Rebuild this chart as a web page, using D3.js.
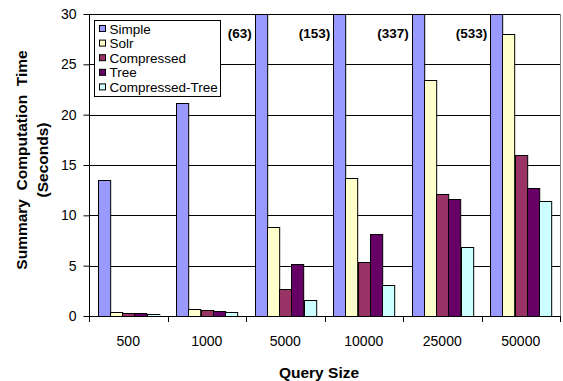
<!DOCTYPE html>
<html><head><meta charset="utf-8">
<script src="https://cdn.jsdelivr.net/npm/d3@7"></script>
<style>body{margin:0;background:#fff}svg{display:block}text{font-family:"Liberation Sans",Arial,sans-serif}</style>
</head><body>
<svg id="c" width="563" height="381"></svg>
<script>
const categories = ["500","1000","5000","10000","25000","50000"];
const seriesNames = ["Simple","Solr","Compressed","Tree","Compressed-Tree"];
const simple = [13.5, 21.2, 63, 153, 337, 533];
const solr = [0.4, 0.7, 8.8, 13.7, 23.4, 28.0];
const compressed = [0.3, 0.6, 2.7, 5.4, 12.1, 16.0];
const tree = [0.3, 0.45, 5.2, 8.1, 11.6, 12.7];
const compressedTree = [0.15, 0.4, 1.55, 3.1, 6.9, 11.45];
const yTicks = [0, 5, 10, 15, 20, 25, 30];
const colors = ["#9999FF","#FFFFCC","#993366","#660066","#CCFFFF"];
const seriesValues = [simple, solr, compressed, tree, compressedTree];

const svg = d3.select("#c");
const L = 89, R = 560, T = 14, B = 316;
const x0 = d3.scaleBand().domain(categories).range([L, R]).padding(0);
const x1 = d3.scaleBand().domain(seriesNames).range([0, x0.bandwidth()]).paddingInner(0).paddingOuter(0.72);
const y = d3.scaleLinear().domain([0, 30]).range([B, T]);

// plot border (right, gray)
svg.append("line").attr("x1", R + 0.5).attr("x2", R + 0.5).attr("y1", T).attr("y2", B).attr("stroke", "#808080");

// gridlines
svg.append("g").selectAll("line").data(yTicks.filter(d => d > 0)).join("line")
  .attr("x1", L).attr("x2", R).attr("y1", d => Math.round(y(d)) + 0.5).attr("y2", d => Math.round(y(d)) + 0.5)
  .attr("stroke", "#000").attr("stroke-width", 1);

// bars
const data = [];
categories.forEach((c, i) => seriesNames.forEach((s, j) => data.push({c, s, v: seriesValues[j][i], color: colors[j]})));
svg.append("g").selectAll("rect").data(data).join("rect")
  .attr("x", d => Math.round(x0(d.c) + x1(d.s)) + 0.5)
  .attr("width", x1.bandwidth())
  .attr("y", d => Math.round(y(Math.min(d.v, 30))) + 0.5)
  .attr("height", d => Math.round(B) - Math.round(y(Math.min(d.v, 30))))
  .attr("fill", d => d.color).attr("stroke", "#000").attr("stroke-width", 1);

// overflow labels
svg.append("g").selectAll("text").data(data.filter(d => d.v > 30)).join("text")
  .attr("x", d => x0(d.c) + x1(d.s) - 3).attr("y", 38)
  .attr("text-anchor", "end").attr("font-weight", "bold").attr("font-size", 13.5)
  .text(d => "(" + d.v + ")");

// y axis
const yAxis = d3.axisLeft(y).tickValues(yTicks).tickSize(6).tickPadding(7).tickFormat(d3.format("d"));
const ya = svg.append("g").attr("transform", `translate(${L + 0.5},0)`).call(yAxis);
ya.select(".domain").remove();
ya.selectAll("line").attr("stroke", "#000");
ya.selectAll("text").attr("font-size", 14).attr("font-family", '"Liberation Sans",Arial,sans-serif').attr("fill", "#000");
svg.append("line").attr("x1", L + 0.5).attr("x2", L + 0.5).attr("y1", T).attr("y2", B + 0.5).attr("stroke", "#000");

// x axis
svg.append("line").attr("x1", L).attr("x2", R + 1).attr("y1", B + 0.5).attr("y2", B + 0.5).attr("stroke", "#000");
const bounds = categories.map(c => x0(c)).concat([R]);
svg.append("g").selectAll("line").data(bounds).join("line")
  .attr("x1", d => Math.round(d) + 0.5).attr("x2", d => Math.round(d) + 0.5).attr("y1", B).attr("y2", B + 6).attr("stroke", "#000");
svg.append("g").selectAll("text").data(categories).join("text")
  .attr("x", d => x0(d) + x0.bandwidth() / 2).attr("y", 346)
  .attr("text-anchor", "middle").attr("font-size", 14).text(d => d);

// axis titles
svg.append("text").attr("x", 319).attr("y", 378).attr("text-anchor", "middle")
  .attr("font-weight", "bold").attr("font-size", 15.5).text("Query Size");
const yt = svg.append("text").attr("transform", "translate(0,160) rotate(-90)")
  .attr("text-anchor", "middle").attr("font-weight", "bold").attr("font-size", 15.5);
yt.append("tspan").attr("x", 0).attr("y", 27).attr("xml:space", "preserve").style("white-space", "pre").text("Summary  Computation  Time");
yt.append("tspan").attr("x", 0).attr("y", 48).text("(Seconds)");

// legend
const lg = svg.append("g");
lg.append("rect").attr("x", 94.5).attr("y", 20.5).attr("width", 126).attr("height", 76).attr("fill", "#fff").attr("stroke", "#000");
const rows = lg.selectAll("g").data(seriesNames).join("g")
  .attr("transform", (d, i) => `translate(0,${28.5 + i * 14.6})`);
rows.append("rect").attr("x", 99.5).attr("y", -3).attr("width", 6).attr("height", 6)
  .attr("fill", (d, i) => colors[i]).attr("stroke", "#000");
rows.append("text").attr("x", 109.5).attr("y", 5).attr("font-size", 13.5).text(d => d);
</script>
</body></html>
